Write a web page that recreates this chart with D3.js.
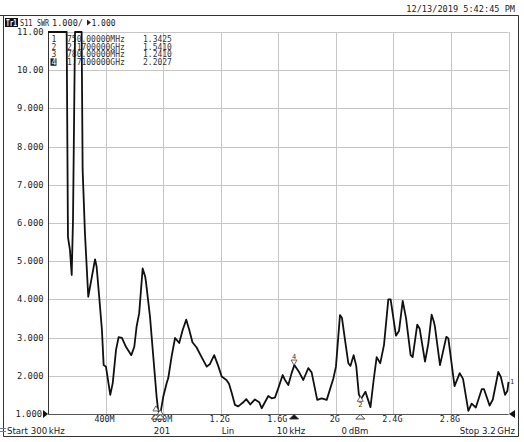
<!DOCTYPE html>
<html><head><meta charset="utf-8">
<script src="https://cdn.jsdelivr.net/npm/d3@7"></script>
<style>
html,body{margin:0;padding:0;background:#fff;}
svg{display:block;}
</style></head>
<body>
<script>
// ---- data ----
const freqMHz = [0.3,130,139,153,165,174,188,234,241,257,280,327,338,356,375,387,403,433,450,473,491,514,542,579,600,616,634,658,676,681,709,732,755,766,783,801,825,836,859,883,912,936,961,982,1004,1033,1063,1103,1126,1155,1183,1207,1240,1258,1277,1299,1322,1355,1378,1406,1438,1468,1485,1531,1554,1577,1600,1631,1647,1670,1693,1712,1746,1774,1809,1832,1871,1902,1937,1983,2001,2029,2043,2064,2087,2102,2124,2142,2160,2175,2206,2241,2263,2284,2309,2335,2365,2381,2418,2439,2465,2488,2520,2534,2566,2583,2620,2643,2666,2682,2689,2724,2768,2782,2825,2861,2884,2921,2944,2973,3014,3030,3069,3091,3129,3146,3176,3192,3200];
const swr = [12,12,5.63,5.29,4.64,6.08,12,12,7.39,5.74,4.07,5.05,4.86,4.07,3.20,2.28,2.24,1.50,1.81,2.68,3.01,2.99,2.76,2.54,2.76,3.29,3.64,4.81,4.59,4.46,3.55,2.50,1.45,1.08,1.05,1.45,1.81,1.94,2.50,2.99,2.86,3.20,3.47,3.20,2.88,2.74,2.52,2.24,2.31,2.54,2.26,1.98,1.89,1.79,1.55,1.24,1.20,1.30,1.39,1.25,1.38,1.31,1.15,1.47,1.41,1.43,1.67,2.02,1.89,1.76,2.07,2.28,2.09,1.89,2.20,2.09,1.37,1.41,1.37,1.93,2.24,3.59,3.51,2.94,2.33,2.26,2.54,2.26,1.52,1.39,1.58,1.18,1.89,2.49,2.33,2.81,4.00,4.00,3.05,3.17,3.96,3.51,2.54,2.49,3.34,3.23,2.37,2.85,3.60,3.41,3.28,2.28,3.02,2.98,1.73,2.07,1.92,1.08,1.27,1.17,1.65,1.65,1.22,1.38,2.10,1.98,1.50,1.60,1.84];

const xTickValues = [400,800,1200,1600,2000,2400,2800,3200];
const xTickLabels = ["400M","800M","1.2G","1.6G","2G","2.4G","2.8G",""];
const yTickValues = [1,2,3,4,5,6,7,8,9,10,11];
const yTickLabels = ["1.000","2.000","3.000","4.000","5.000","6.000","7.000","8.000","9.000","10.00","11.00"];

const markerNum = [1,2,3,4];
const markerFreq = [750,2170,780,1710];
const markerSWR = [1.3425,1.5410,1.2410,2.2027];
const markerFreqText = ["750.00000MHz","2.1700000GHz","780.00000MHz","1.7100000GHz"];
const markerValText = ["1.3425","1.5410","1.2410","2.2027"];
const activeMarker = 4;

const dateText = "12/13/2019 5:42:45 PM";
const footer = [["Start 300\u2009kHz","start",7],["201","middle",162],["Lin","middle",228],["10\u2009kHz","middle",291],["0\u2009dBm","middle",355],["Stop 3.2\u2009GHz","end",515]];

// ---- drawing ----
const W=524,H=442;
const svg=d3.select("body").append("svg").attr("width",W).attr("height",H);
const mono="'DejaVu Sans Mono', monospace";
const sans="'DejaVu Sans', sans-serif";
const x=d3.scaleLinear().domain([0.3,3200]).range([48,508.5]);
const y=d3.scaleLinear().domain([1,11]).range([414,32]).clamp(true);

// outer frame
svg.append("line").attr("x1",0).attr("x2",518.5).attr("y1",15.5).attr("y2",15.5).attr("stroke","#333");
svg.append("line").attr("x1",518.5).attr("x2",518.5).attr("y1",15.5).attr("y2",436.5).attr("stroke","#333");
svg.append("line").attr("x1",3.5).attr("x2",3.5).attr("y1",15.5).attr("y2",436.5).attr("stroke","#333");
svg.append("line").attr("x1",3.5).attr("x2",518.5).attr("y1",436.5).attr("y2",436.5).attr("stroke","#333");
svg.append("line").attr("x1",0).attr("x2",6).attr("y1",428.5).attr("y2",428.5).attr("stroke","#6a7f95");
svg.append("line").attr("x1",0).attr("x2",6).attr("y1",431.5).attr("y2",431.5).attr("stroke","#6a7f95");

// date
svg.append("text").attr("x",515).attr("y",12).attr("text-anchor","end").attr("font-family",mono).attr("font-size",8.6).attr("fill","#222").text(dateText);

// header
svg.append("rect").attr("x",5).attr("y",18).attr("width",13).attr("height",9).attr("fill","#111");
svg.append("text").attr("x",6).attr("y",25.5).attr("font-family",mono).attr("font-size",8).attr("font-weight","bold").attr("fill","#fff")
  .attr("textLength",11).attr("lengthAdjust","spacingAndGlyphs").text("Tr1");
const hdr=svg.append("g").attr("font-family",mono).attr("font-size",8.6).attr("fill","#222");
hdr.append("text").attr("x",20).attr("y",26).attr("textLength",12.5).attr("lengthAdjust","spacingAndGlyphs").text("S11");
hdr.append("text").attr("x",37).attr("y",26).attr("textLength",12).attr("lengthAdjust","spacingAndGlyphs").text("SWR");
hdr.append("text").attr("x",52).attr("y",26).attr("textLength",31).attr("lengthAdjust","spacingAndGlyphs").text("1.000/");
hdr.append("path").attr("d","M87,19.5L91,22.5L87,25.5Z").attr("fill","#222");
hdr.append("text").attr("x",91.5).attr("y",26).attr("textLength",24).attr("lengthAdjust","spacingAndGlyphs").text("1.000");

// grid
const grid=svg.append("g").attr("stroke","#c6c6c6").attr("stroke-width",1);
yTickValues.forEach(v=>{ grid.append("line").attr("x1",48).attr("x2",x(3200)).attr("y1",Math.round(y(v))+0.5).attr("y2",Math.round(y(v))+0.5); });
xTickValues.forEach(v=>{ grid.append("line").attr("x1",Math.round(x(v))+0.5).attr("x2",Math.round(x(v))+0.5).attr("y1",y(11)).attr("y2",414); });
// axes lines
svg.append("line").attr("x1",48.5).attr("x2",48.5).attr("y1",y(11)).attr("y2",414.5).attr("stroke","#333");
svg.append("line").attr("x1",48).attr("x2",x(3200)).attr("y1",414.5).attr("y2",414.5).attr("stroke","#555");

// y labels
const yl=svg.append("g").attr("font-family",mono).attr("font-size",8.8).attr("fill","#222").attr("text-anchor","end");
yTickValues.forEach((v,i)=>{ yl.append("text").attr("x",v===1?42:43.5).attr("y",y(v)+3).text(yTickLabels[i]); });
svg.append("path").attr("d","M43,410L48,414L43,418Z").attr("fill","#111");
svg.append("path").attr("d","M515,410L509,414L515,418Z").attr("fill","#111");

// x labels
const xl=svg.append("g").attr("font-family",mono).attr("font-size",8.4).attr("fill","#222").attr("text-anchor","middle");
xTickValues.forEach((v,i)=>{ if(xTickLabels[i]) xl.append("text").attr("x",x(v)-1).attr("y",421.5).text(xTickLabels[i]); });

// footer
const ft=svg.append("g").attr("font-family",sans).attr("font-size",8.6).attr("fill","#222");
footer.forEach(f=>ft.append("text").attr("x",f[2]).attr("y",434).attr("text-anchor",f[1]).text(f[0]));

// marker table
const mt=svg.append("g").attr("font-family",mono).attr("font-size",8).attr("fill","#333");
markerNum.forEach((n,i)=>{
  const yy=42+i*7.6;
  if(n===activeMarker){ mt.append("rect").attr("x",50.5).attr("y",yy-6.5).attr("width",6).attr("height",7.5).attr("fill","#222"); mt.append("text").attr("x",51.5).attr("y",yy).attr("fill","#fff").text(n); }
  else mt.append("text").attr("x",51.5).attr("y",yy).text(n);
  mt.append("text").attr("x",67).attr("y",yy).text(markerFreqText[i]);
  mt.append("text").attr("x",143).attr("y",yy).text(markerValText[i]);
});

// trace
const line=d3.line().x((d,i)=>x(freqMHz[i])).y((d,i)=>y(d));
svg.append("path").datum(swr).attr("d",line).attr("fill","none").attr("stroke","#111").attr("stroke-width",1.8).attr("stroke-linejoin","round");

// markers on trace
const mk=svg.append("g");
markerNum.forEach((n,i)=>{
  const mx=x(markerFreq[i]), my=y(markerSWR[i]);
  if(n===4){
    mk.append("path").attr("d",`M${mx-3},${my-8}L${mx+3},${my-8}L${mx},${my-3}Z`).attr("fill","#fff").attr("stroke","#444").attr("stroke-width",0.8);
    mk.append("text").attr("x",mx).attr("y",my-9).attr("text-anchor","middle").attr("font-family",mono).attr("font-size",7).attr("fill","#333").text(n);
  } else if(n===2){
    mk.append("path").attr("d",`M${mx-3},${my+8}L${mx+3},${my+8}L${mx},${my+3}Z`).attr("fill","#fff").attr("stroke","#444").attr("stroke-width",0.8);
    mk.append("text").attr("x",mx).attr("y",my+14).attr("text-anchor","middle").attr("font-family",mono).attr("font-size",7).attr("fill","#333").text(n);
  } else {
    mk.append("path").attr("d",`M${mx-3},${my+10}L${mx+3},${my+10}L${mx},${my+5}Z`).attr("fill","#fff").attr("stroke","#444").attr("stroke-width",0.8);
  }
  // bottom axis indicators
  const filled = n===activeMarker;
  mk.append("path").attr("d",`M${mx-4.5},${419}L${mx+4.5},${419}L${mx},${414.5}Z`).attr("fill",filled?"#111":"#fff").attr("stroke","#333").attr("stroke-width",0.9);
});
// right end trace label
svg.append("text").attr("x",510).attr("y",384).attr("font-family",mono).attr("font-size",7).attr("fill","#333").text("1");
</script>
</body></html>
